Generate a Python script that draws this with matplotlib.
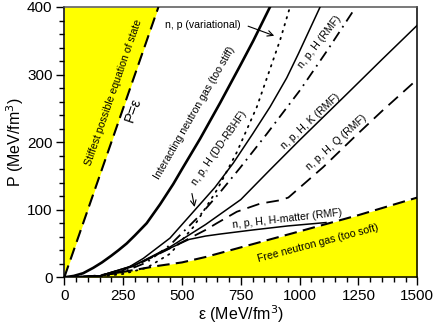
import matplotlib
matplotlib.use("Agg")
import matplotlib.pyplot as plt
from matplotlib.ticker import MultipleLocator

plt.rcParams['font.family'] = ['Liberation Sans', 'DejaVu Sans']

# --- data ---
stiff_eps = [0, 400]
stiff_P = [0, 400]

free_eps = [0, 100, 200, 300, 400, 500, 600, 800, 1000, 1250, 1500]
free_P = [0, 1, 5, 11, 17, 22, 30, 49, 68, 92, 118]

inter_eps = [0, 40, 80, 123, 160, 200, 230, 265, 300, 350, 407, 463, 500, 577, 662, 750, 803, 874]
inter_P = [0, 2, 6, 14, 22, 32, 40, 50, 62, 80, 108, 138, 160, 205, 258, 315, 350, 400]

var_eps = [0, 150, 250, 350, 450, 550, 650, 733, 818, 917, 959]
var_P = [0, 1, 5, 14, 35, 75, 130, 185, 252, 351, 400]

dd_eps = [0, 150, 250, 336, 449, 556, 640, 718, 800, 874, 945, 995, 1087]
dd_P = [0, 2, 10, 28, 58, 100, 133, 169, 212, 252, 295, 331, 400]

rmf_eps = [0, 150, 250, 350, 450, 577, 660, 747, 860, 1002, 1120, 1235]
rmf_P = [0, 2, 8, 22, 48, 92, 125, 162, 212, 277, 337, 398]

k_eps = [0, 150, 300, 450, 600, 750, 874, 1000, 1200, 1349, 1500]
k_P = [0, 2, 18, 45, 78, 115, 159, 203, 271, 322, 373]

q_eps = [0, 150, 300, 450, 600, 648, 733, 832, 917, 952, 1100, 1243, 1350, 1500]
q_P = [0, 2, 17, 43, 70, 80, 97, 109, 114, 118, 163, 211, 246, 293]

hm_eps = [0, 150, 300, 400, 480, 530, 600, 662, 800, 950, 1112]
hm_P = [0, 2, 18, 35, 48, 56, 61, 64, 70, 76, 81]

x_ticks = [0, 250, 500, 750, 1000, 1250, 1500]
y_ticks = [0, 100, 200, 300, 400]

fig = plt.figure(figsize=(4.36, 3.28), dpi=100)
ax = fig.add_axes([0.1475, 0.1546, 0.8096, 0.8241])

yellow = '#ffff00'
# causal limit region
ax.fill_betweenx([0, 400], [0, 0], stiff_eps, color=yellow, lw=0, zorder=1)
# free gas region
ax.fill_between(free_eps, 0, free_P, color=yellow, lw=0, zorder=1)

ax.plot(stiff_eps, stiff_P, color='black', lw=1.5, dashes=(6, 3), zorder=3)
ax.plot(free_eps, free_P, color='black', lw=1.5, dashes=(6, 3), zorder=3)
ax.plot(inter_eps, inter_P, color='black', lw=1.9, zorder=3)
ax.plot(var_eps, var_P, color='black', lw=1.3, dashes=(0.8, 3.2), dash_capstyle='round', zorder=3)
ax.plot(dd_eps, dd_P, color='black', lw=1.1, zorder=3)
ax.plot(rmf_eps, rmf_P, color='black', lw=1.3, dashes=(6, 3, 1, 3), zorder=3)
ax.plot(k_eps, k_P, color='black', lw=1.1, zorder=3)
ax.plot(q_eps, q_P, color='black', lw=1.3, dashes=(7, 4), zorder=3)
ax.plot(hm_eps, hm_P, color='black', lw=1.1, zorder=3)

fs = 7.6
kw = dict(ha='center', va='center', rotation_mode='anchor', fontsize=fs, zorder=4)
ax.text(211, 273, 'Stiffest possible equation of state', rotation=70.8, **kw)
ax.text(293, 247, 'P=ε', rotation=70.8, ha='center', va='center',
        rotation_mode='anchor', fontsize=10.5, zorder=4)
ax.text(555, 243, 'Interacting neutron gas (too stiff)', rotation=60, **kw)
ax.text(590, 373, 'n, p (variational)', rotation=0, **kw)
ax.annotate('', xy=(903, 356), xytext=(770, 373),
            arrowprops=dict(arrowstyle='->', lw=0.8, color='black'), zorder=4)
ax.text(657, 191, 'n, p, H (DD-RBHF)', rotation=55, **kw)
ax.annotate('', xy=(556, 100), xytext=(540, 128),
            arrowprops=dict(arrowstyle='->', lw=0.8, color='black'), zorder=4)
ax.text(1087, 348, 'n, p, H (RMF)', rotation=52, **kw)
ax.text(1048, 231, 'n, p, H, K (RMF)', rotation=43, **kw)
ax.text(1155, 199, 'n, p, H, Q (RMF)', rotation=42, **kw)
ax.text(949, 87, 'n, p, H, H-matter (RMF)', rotation=6.5, **kw)
ax.text(1076, 51, 'Free neutron gas (too soft)', rotation=14.8, **kw)

ax.set_xlim(0, 1500)
ax.set_ylim(0, 400)
ax.set_xticks(x_ticks)
ax.set_yticks(y_ticks)
ax.xaxis.set_minor_locator(MultipleLocator(50))
ax.yaxis.set_minor_locator(MultipleLocator(20))
ax.tick_params(which='major', direction='out', length=6, width=1, labelsize=11,
               top=False, right=False, pad=2.5)
ax.tick_params(which='minor', direction='out', length=3.5, width=1,
               top=False, right=False)
for s in ax.spines.values():
    s.set_linewidth(1.1)
ax.spines['top'].set_color('#555555')

ax.set_xlabel('ε (MeV/fm$^3$)', fontsize=11.5, labelpad=0)
ax.set_ylabel('P (MeV/fm$^3$)', fontsize=11.5, labelpad=1)

fig.savefig('out.png', dpi=100)
